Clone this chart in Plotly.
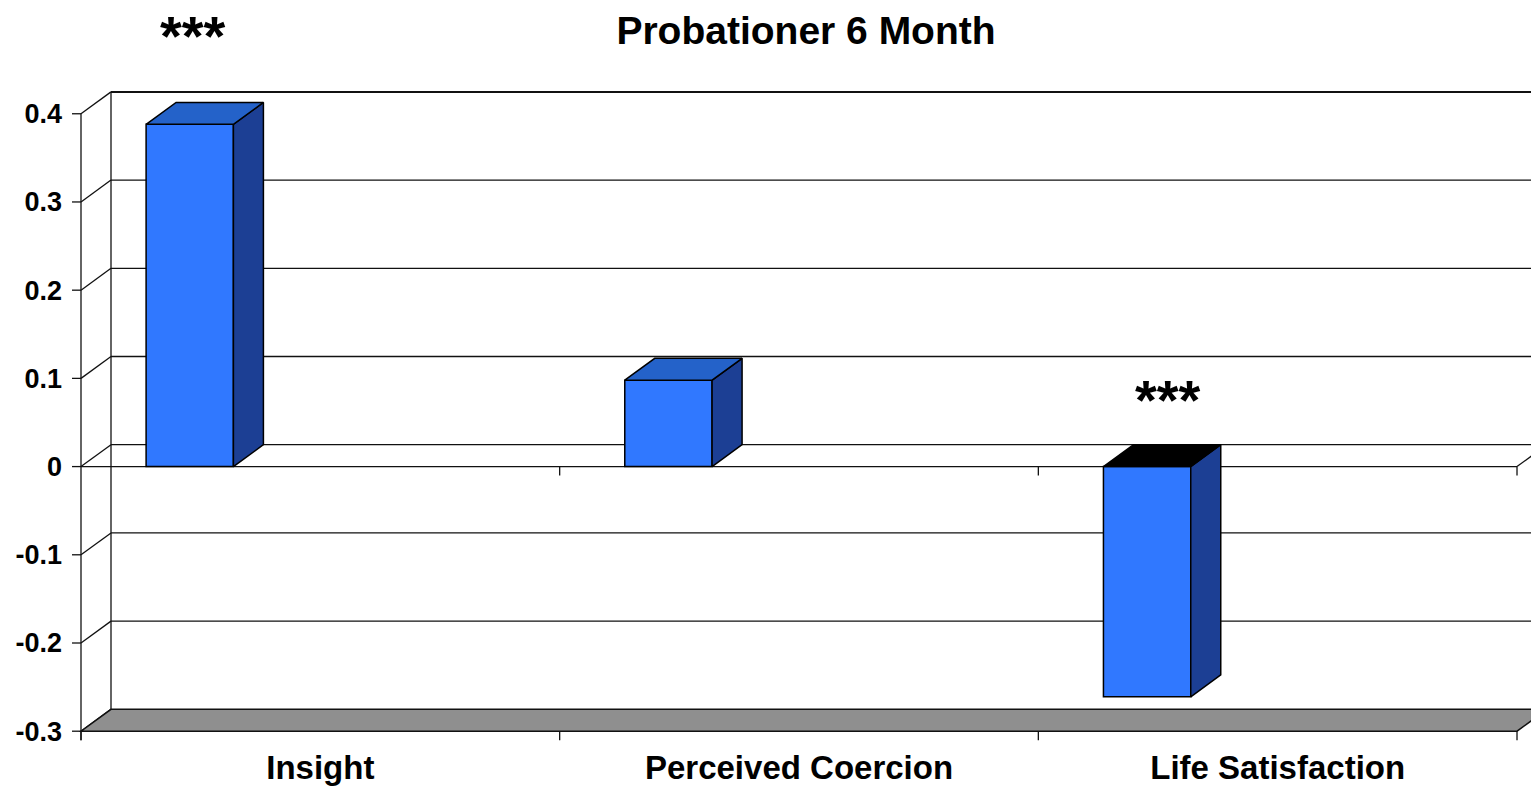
import plotly.graph_objects as go

categories = ["Insight", "Perceived Coercion", "Life Satisfaction"]
values = [0.388, 0.098, -0.261]
stars = ["***", "", "***"]
y_ticks = [-0.3, -0.2, -0.1, 0, 0.1, 0.2, 0.3, 0.4]
y_tick_text = ["-0.3", "-0.2", "-0.1", "0", "0.1", "0.2", "0.3", "0.4"]

# the page body adds an 8px margin, so the figure is laid out from (8, 8)
W, H = 1531, 778
PX_X = 478.67          # px per category
PX_Y = 887.1           # px per 1.0 of value
X0_PX, ZERO_PX = 73, 461
DX = 30 / PX_X         # depth offset, x
DY = 22 / PX_Y         # depth offset, y
BAR_L, BAR_W = 0.136, 0.1824
TICK_X = 9 / PX_X
TICK_Y = 9 / PX_Y
L, T, B = 63, 35, 38
x_range = [-(X0_PX - L) / PX_X, (W - X0_PX) / PX_X]
y_range = [(ZERO_PX - (H - B)) / PX_Y, (ZERO_PX - T) / PX_Y]

FRONT = "#3078ff"
SIDE = "#1c3f94"
TOP = "#2462c9"
FONT = "Liberation Sans, Arial, sans-serif"

n = len(categories)
ymin, ymax = y_ticks[0], y_ticks[-1]

shapes = []


def line(x0, y0, x1, y1, w=1.3, color="#111"):
    shapes.append(dict(type="line", xref="x", yref="y", x0=x0, y0=y0, x1=x1, y1=y1,
                       line=dict(color=color, width=w), layer="below"))


# back wall
line(DX, ymax + DY, x_range[1] + 1, ymax + DY, w=2)
line(DX, ymin + DY, DX, ymax + DY)
for t in y_ticks[1:-1]:
    line(DX, t + DY, n + DX + 1, t + DY)
# left side wall diagonals + front value axis
for t in y_ticks:
    line(0, t, DX, t + DY)
    line(-TICK_X, t, 0, t)
line(0, ymin - TICK_Y, 0, ymax)
# floor
shapes.append(dict(
    type="path", xref="x", yref="y", layer="below",
    path=f"M 0 {ymin} L {n} {ymin} L {n + DX} {ymin + DY} L {DX} {ymin + DY} Z",
    fillcolor="#8f8f8f", line=dict(color="#111", width=1.5),
))
# zero line + category ticks
line(0, 0, n, 0)
line(n, 0, n + DX, DY)
for i in range(n + 1):
    line(i, ymin, i, ymin - TICK_Y)
    if i > 0:
        line(i, 0, i, -TICK_Y)

fig = go.Figure()

xs = [i + BAR_L + BAR_W / 2 for i in range(n)]
fig.add_trace(go.Bar(
    x=xs, y=values, width=BAR_W,
    marker=dict(color=FRONT, line=dict(color="#000", width=1.5)),
    hoverinfo="skip", showlegend=False,
))

for i, v in enumerate(values):
    xl = i + BAR_L
    xr = xl + BAR_W
    # side face
    fig.add_trace(go.Scatter(
        x=[xr, xr, xr + DX, xr + DX, xr], y=[0, v, v + DY, DY, 0],
        fill="toself", fillcolor=SIDE, mode="lines",
        line=dict(color="#000", width=1.5), hoverinfo="skip", showlegend=False,
    ))
    # top face (black lid at zero when the bar goes down)
    top = max(v, 0)
    fig.add_trace(go.Scatter(
        x=[xl, xr, xr + DX, xl + DX, xl], y=[top, top, top + DY, top + DY, top],
        fill="toself", fillcolor=TOP if v > 0 else "#000", mode="lines",
        line=dict(color="#000", width=1.5), hoverinfo="skip", showlegend=False,
    ))

# star labels: x in category units, y in value units (converted to paper)
star_x = [0.234, None, 2.271]
star_y = [0.489, None, 0.0756]
for s, sx, sy in zip(stars, star_x, star_y):
    if s:
        py = (sy - y_range[0]) / (y_range[1] - y_range[0])
        fig.add_annotation(x=sx, y=py, xref="x", yref="paper", text=f"<b>{s}</b>",
                           showarrow=False, xanchor="center", yanchor="middle",
                           font=dict(family=FONT, size=56, color="#000"))

fig.update_layout(
    width=W, height=H,
    margin=dict(l=L, r=0, t=T, b=B, pad=0),
    plot_bgcolor="white", paper_bgcolor="white",
    shapes=shapes,
    title=dict(text="<b>Probationer 6 Month</b>", x=798 / W, xanchor="center",
               y=1 - 22 / H, yanchor="middle", yref="container",
               font=dict(family=FONT, size=39, color="#000")),
    xaxis=dict(range=x_range, showgrid=False, zeroline=False, showline=False,
               tickvals=[i + 0.5 for i in range(n)],
               ticktext=[f"<b>{c}</b>" for c in categories],
               tickfont=dict(family=FONT, size=33, color="#000"),
               ticks="", ticklabelstandoff=1, fixedrange=True),
    yaxis=dict(range=y_range, showgrid=False, zeroline=False, showline=False,
               tickvals=y_ticks, ticktext=[f"<b>{t}</b>" for t in y_tick_text],
               tickfont=dict(family=FONT, size=27, color="#000"),
               ticks="", ticklabelstandoff=8, fixedrange=True),
)

fig.write_html("out.html")
